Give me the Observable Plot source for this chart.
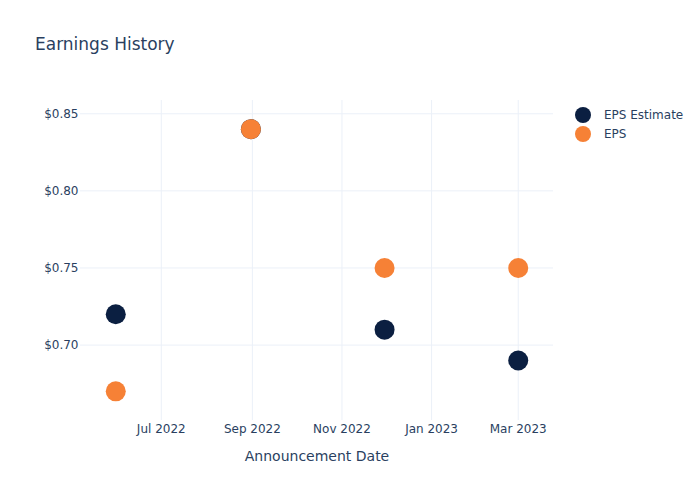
<!DOCTYPE html>
<html>
<head>
<meta charset="utf-8">
<script src="https://cdn.jsdelivr.net/npm/d3@7"></script>
<script src="https://cdn.jsdelivr.net/npm/@observablehq/plot@0.6"></script>
<style>
  html, body { margin: 0; padding: 0; background: #fff; }
  #wrap { position: relative; width: 700px; height: 500px; font-family: "DejaVu Sans", sans-serif; color: #2a3f5f; }
  #title { position: absolute; left: 35px; top: 34px; font-size: 17px; line-height: 20px; white-space: nowrap; }
  #legend { position: absolute; left: 575px; top: 105px; font-size: 12px; }
  .item { display: flex; align-items: center; height: 19px; }
  .sw { width: 16px; height: 16px; border-radius: 50%; margin-right: 13px; }
  #chart { position: absolute; left: 0; top: 0; }
</style>
</head>
<body>
<div id="wrap">
  <div id="chart"></div>
  <div id="title">Earnings History</div>
  <div id="legend"></div>
</div>
<script>
// Data
const dates = ["2022-05-31", "2022-08-31", "2022-11-30", "2023-03-01"];
const epsEstimate = [0.72, 0.84, 0.71, 0.69];
const eps = [0.67, 0.84, 0.75, 0.75];
const seriesNames = ["EPS Estimate", "EPS"];
const seriesColors = ["#0b1f41", "#f68136"];
const yTicks = [0.70, 0.75, 0.80, 0.85];
const xTicks = ["2022-07-01", "2022-09-01", "2022-11-01", "2023-01-01", "2023-03-01"];

const rows = [];
dates.forEach((d, i) => rows.push({date: new Date(d), value: epsEstimate[i], series: seriesNames[0]}));
dates.forEach((d, i) => rows.push({date: new Date(d), value: eps[i], series: seriesNames[1]}));

const xTickDates = xTicks.map(d => new Date(d));
const grid = "#ebf0f8";

const chart = Plot.plot({
  width: 700,
  height: 500,
  marginLeft: 80,
  marginRight: 147,
  marginTop: 100,
  marginBottom: 80,
  style: {fontFamily: "DejaVu Sans, sans-serif", fontSize: "12px", color: "#2a3f5f", background: "#fff"},
  x: {type: "utc", domain: [new Date("2022-05-07"), new Date("2023-03-25")]},
  y: {domain: [0.6511, 0.8586]},
  color: {domain: seriesNames, range: seriesColors},
  marks: [
    Plot.gridX(xTickDates, {stroke: grid, strokeOpacity: 1, strokeWidth: 1}),
    Plot.gridY(yTicks, {stroke: grid, strokeOpacity: 1, strokeWidth: 1}),
    Plot.axisX(xTickDates, {
      tickSize: 0, tickPadding: 4, tickFormat: d3.utcFormat("%b %Y"),
      label: "Announcement Date", labelAnchor: "center", labelArrow: "none", labelOffset: 40,
      fontSize: 12
    }),
    Plot.axisY(yTicks, {
      tickSize: 0, tickPadding: 2, tickFormat: d => "$" + d.toFixed(2), label: null, fontSize: 12
    }),
    Plot.dot(rows, {x: "date", y: "value", fill: "series", r: 10})
  ]
});
document.getElementById("chart").appendChild(chart);

// style axis label size
chart.querySelectorAll("[aria-label='x-axis label'] text").forEach(t => t.setAttribute("font-size", "14px"));

// Legend
const legend = document.getElementById("legend");
seriesNames.forEach((name, i) => {
  const it = document.createElement("div");
  it.className = "item";
  const sw = document.createElement("div");
  sw.className = "sw";
  sw.style.background = seriesColors[i];
  const lb = document.createElement("span");
  lb.textContent = name;
  it.appendChild(sw); it.appendChild(lb);
  legend.appendChild(it);
});
</script>
</body>
</html>
